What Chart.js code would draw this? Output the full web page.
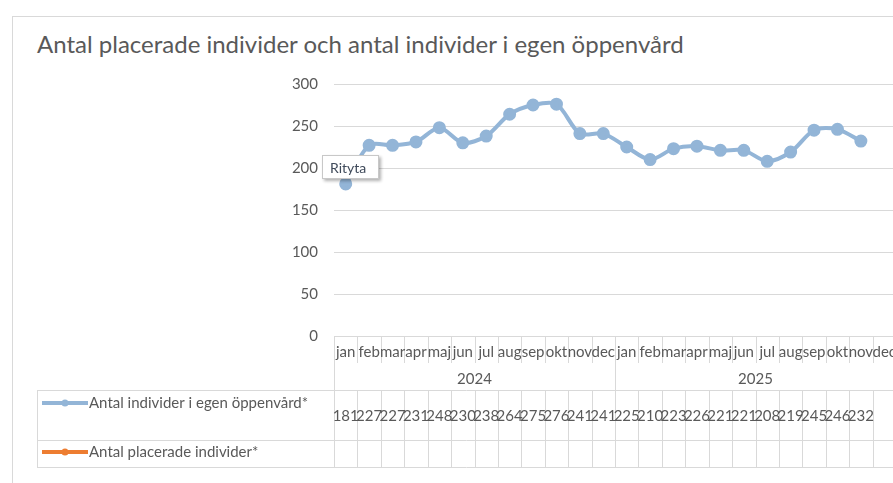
<!DOCTYPE html>
<html>
<head>
<meta charset="utf-8">
<script src="https://cdn.jsdelivr.net/npm/chart.js@4"></script>
<style>
  body { margin: 0; overflow: hidden; background: #fff; }
  #wrap { position: relative; width: 920px; height: 483px; }
  #frame { position: absolute; left: 12px; top: 16px; width: 1000px; height: 600px; border: 1px solid #d9d9d9; }
  #title { position: absolute; left: 37px; top: 29px; font: 24px Lato, sans-serif; color: #595959; white-space: nowrap; }
  #box { position: absolute; left: 0; top: 0; width: 920px; height: 483px; }
</style>
</head>
<body>
<div id="wrap">
  <div id="frame"></div>
  <div id="title">Antal placerade individer och antal individer i egen öppenvård</div>
  <div id="box"><canvas id="lineGraph"></canvas></div>
</div>
<script>
const months = ['jan', 'feb', 'mar', 'apr', 'maj', 'jun', 'jul', 'aug', 'sep', 'okt', 'nov', 'dec'];
const years = ['2024', '2025'];
const yTicks = [0, 50, 100, 150, 200, 250, 300];
const oppenvard = [181, 227, 227, 231, 248, 230, 238, 264, 275, 276, 241, 241,
                   225, 210, 223, 226, 221, 221, 208, 219, 245, 246, 232, null];
const placerade = [];
const seriesNames = ['Antal individer i egen öppenvård*', 'Antal placerade individer*'];

const labels = [];
years.forEach(y => months.forEach(m => labels.push(m + ' ' + y)));

const blue = '#93b5d7';
const orange = '#ed7d31';
const gridCol = '#d9d9d9';
const textCol = '#595959';
const font = '15px Lato, sans-serif';

// draws the Excel style data table under the plot, plus the "Rityta" hover tip
const dataTable = {
  id: 'dataTable',
  afterDraw(chart) {
    const ctx = chart.ctx;
    const x = chart.scales.x;
    const area = chart.chartArea;
    const n = labels.length;
    const w = (area.right - area.left) / n;
    const top = area.bottom;
    const monthBottom = top + 27;
    const headBottom = top + 54;
    const row1Bottom = headBottom + 50;
    const row2Bottom = row1Bottom + 27;
    const legendLeft = 37;

    ctx.save();
    ctx.strokeStyle = gridCol;
    ctx.lineWidth = 1;
    ctx.beginPath();
    for (let i = 0; i <= n; i++) {
      const px = Math.round(area.left + i * w) + 0.5;
      const isYear = i % months.length === 0;
      ctx.moveTo(px, top);
      ctx.lineTo(px, isYear ? headBottom : monthBottom);
      ctx.moveTo(px, headBottom);
      ctx.lineTo(px, row2Bottom);
    }
    [headBottom, row1Bottom, row2Bottom].forEach(y => {
      ctx.moveTo(legendLeft, y + 0.5);
      ctx.lineTo(area.right, y + 0.5);
    });
    ctx.moveTo(legendLeft + 0.5, headBottom);
    ctx.lineTo(legendLeft + 0.5, row2Bottom);
    ctx.stroke();

    ctx.fillStyle = textCol;
    ctx.font = font;
    ctx.textAlign = 'center';
    ctx.textBaseline = 'middle';
    labels.forEach((lab, i) => {
      const cx = x.getPixelForValue(i);
      ctx.fillText(months[i % months.length], cx, top + 16);
      const v = oppenvard[i];
      if (v != null) ctx.fillText(String(v), cx, headBottom + 26);
    });
    years.forEach((y, k) => {
      const cx = area.left + (k + 0.5) * months.length * w;
      ctx.fillText(y, cx, top + 43);
    });

    // legend keys
    const keys = [[blue, headBottom + 13], [orange, row1Bottom + 12]];
    ctx.textAlign = 'left';
    keys.forEach((k, j) => {
      ctx.strokeStyle = k[0];
      ctx.fillStyle = k[0];
      ctx.lineWidth = 4;
      ctx.beginPath();
      ctx.moveTo(42, k[1]);
      ctx.lineTo(88, k[1]);
      ctx.stroke();
      ctx.beginPath();
      ctx.arc(65, k[1], 3.5, 0, Math.PI * 2);
      ctx.fill();
      ctx.fillStyle = textCol;
      ctx.fillText(seriesNames[j], 89, k[1]);
    });

    // hover tip
    ctx.shadowColor = 'rgba(0,0,0,0.3)';
    ctx.shadowBlur = 3;
    ctx.shadowOffsetX = 2;
    ctx.shadowOffsetY = 2;
    ctx.fillStyle = '#ffffff';
    ctx.fillRect(322, 155, 57, 24);
    ctx.shadowColor = 'transparent';
    ctx.strokeStyle = '#c8c8c8';
    ctx.lineWidth = 1;
    ctx.strokeRect(322.5, 155.5, 56, 23);
    ctx.fillStyle = '#3f4a5a';
    ctx.font = '14px Lato, sans-serif';
    ctx.fillText('Rityta', 330, 168);
    ctx.restore();
  }
};

const canvas = document.getElementById('lineGraph');
const ctx = canvas.getContext('2d');

const myChart = new Chart(ctx, {
  type: 'line',
  data: {
    labels: labels,
    datasets: [
      {
        label: seriesNames[0],
        data: oppenvard,
        borderColor: blue,
        backgroundColor: blue,
        borderWidth: 4,
        pointRadius: 4.5,
        pointHoverRadius: 4.5,
        tension: 0.3,
        fill: false,
      },
      {
        label: seriesNames[1],
        data: placerade,
        borderColor: orange,
        backgroundColor: orange,
        borderWidth: 4,
        fill: false,
      },
    ],
  },
  options: {
    responsive: true,
    maintainAspectRatio: false,
    animation: false,
    devicePixelRatio: 1,
    layout: { padding: { left: 0, top: 84, right: 24, bottom: 147 } },
    plugins: { legend: { display: false }, tooltip: { enabled: false } },
    events: [],
    scales: {
      x: { display: false, offset: true },
      y: {
        min: 0,
        max: 300,
        afterFit: (scale) => { scale.width = 334; },
        afterBuildTicks: (scale) => { scale.ticks = yTicks.map(v => ({ value: v })); },
        border: { display: false },
        grid: { color: gridCol, drawTicks: false },
        ticks: { color: textCol, padding: 16, font: { family: 'Lato', size: 15 } },
      },
    },
  },
  plugins: [dataTable],
});
</script>
</body>
</html>
